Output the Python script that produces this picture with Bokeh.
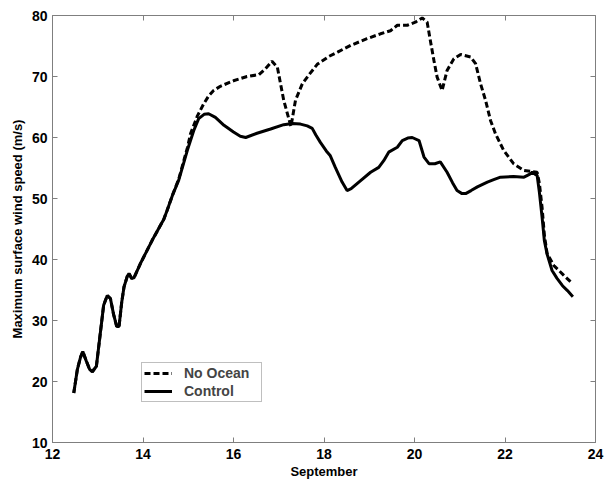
from bokeh.plotting import figure
from bokeh.models import LinearAxis, FixedTicker, Legend, LegendItem, Range1d, CustomJSTickFormatter
from bokeh.embed import file_html
from bokeh.resources import INLINE

# Data
control_x = [12.47, 12.55, 12.62, 12.67, 12.75, 12.82, 12.88, 12.97, 13.05, 13.13, 13.21, 13.28,
             13.35, 13.42, 13.47, 13.53, 13.58, 13.65, 13.69, 13.75, 13.80, 13.94, 14.20, 14.46,
             14.53, 14.65, 14.79, 14.98, 15.12, 15.23, 15.35, 15.45, 15.60, 15.79, 16.00, 16.15,
             16.27, 16.52, 16.82, 17.11, 17.30, 17.48, 17.63, 17.74, 17.82, 17.92, 18.05, 18.14,
             18.25, 18.40, 18.51, 18.60, 18.77, 19.03, 19.21, 19.32, 19.43, 19.62, 19.73, 19.85,
             19.95, 20.10, 20.21, 20.32, 20.45, 20.57, 20.72, 20.84, 20.94, 21.05, 21.13, 21.25,
             21.39, 21.61, 21.75, 21.90, 22.19, 22.42, 22.55, 22.60, 22.66, 22.71, 22.76, 22.82,
             22.87, 22.93, 23.04, 23.15, 23.27, 23.38, 23.50]
control_y = [18.1, 22.0, 24.0, 24.9, 23.3, 22.0, 21.6, 22.5, 27.5, 32.5, 34.1, 33.6,
             31.0, 29.0, 29.0, 33.0, 35.5, 37.2, 37.7, 36.9, 37.0, 39.3, 43.1, 46.6,
             48.0, 50.5, 53.0, 57.9, 61.1, 63.1, 63.8, 63.9, 63.3, 62.0, 60.9, 60.2,
             60.0, 60.7, 61.4, 62.1, 62.3, 62.2, 61.9, 61.5, 60.4, 59.2, 57.8, 57.0,
             55.1, 52.7, 51.3, 51.6, 52.7, 54.3, 55.1, 56.2, 57.6, 58.4, 59.5, 59.9,
             60.0, 59.5, 56.8, 55.7, 55.7, 56.0, 54.3, 52.6, 51.3, 50.8, 50.8, 51.3,
             51.9, 52.7, 53.1, 53.5, 53.6, 53.5, 54.0, 54.3, 54.0, 53.8, 51.0, 46.9,
             43.1, 40.9, 38.2, 36.9, 35.7, 34.9, 33.9]

noocean_x = [12.47, 12.55, 12.62, 12.67, 12.75, 12.82, 12.88, 12.97, 13.05, 13.13, 13.21, 13.28,
             13.35, 13.42, 13.47, 13.53, 13.58, 13.65, 13.69, 13.75, 13.80, 13.94, 14.20, 14.46,
             14.53, 14.65, 14.79, 14.98, 15.05, 15.20, 15.34, 15.45, 15.56, 15.71, 16.00, 16.30,
             16.56, 16.71, 16.85, 16.97, 17.04, 17.11, 17.27, 17.37, 17.52, 17.66, 17.85, 18.11,
             18.30, 18.59, 18.95, 19.25, 19.47, 19.62, 19.84, 20.02, 20.17, 20.28, 20.35, 20.43,
             20.50, 20.61, 20.72, 20.87, 21.02, 21.24, 21.35, 21.46, 21.57, 21.68, 21.79, 21.97,
             22.19, 22.42, 22.60, 22.71, 22.76, 22.82, 22.87, 22.93, 23.08, 23.30, 23.47]
noocean_y = [18.1, 22.0, 24.0, 24.9, 23.3, 22.0, 21.6, 22.5, 27.5, 32.5, 34.1, 33.6,
             31.0, 29.0, 29.0, 33.0, 35.5, 37.2, 37.7, 36.9, 37.0, 39.3, 43.1, 46.6,
             48.0, 50.5, 53.2, 58.3, 60.6, 63.5, 65.5, 66.8, 67.7, 68.4, 69.3, 70.0,
             70.3, 71.3, 72.5, 71.5, 68.8, 66.1, 61.8, 66.1, 68.8, 70.2, 72.0, 73.3,
             74.0, 75.1, 76.2, 77.0, 77.5, 78.4, 78.4, 78.9, 79.6, 78.9, 75.9, 72.6,
             69.9, 67.7, 71.0, 72.9, 73.6, 73.2, 72.1, 68.8, 66.1, 62.8, 60.6, 57.9,
             55.7, 54.6, 54.4, 54.3, 52.5, 48.5, 44.0, 41.0, 39.0, 37.4, 36.2]

x_ticks = [12, 14, 16, 18, 20, 22, 24]
y_ticks = [10, 20, 30, 40, 50, 60, 70, 80]
x_label = "September"
y_label = "Maximum surface wind speed (m/s)"
series_names = ["No Ocean", "Control"]

FONT = "Liberation Sans"
AX = "#7f7f7f"

p = figure(width=612, height=482, output_backend="svg", toolbar_location=None,
           x_range=Range1d(12, 24), y_range=Range1d(10, 80),
           min_border_left=52, min_border_top=15, min_border_right=17, min_border_bottom=40)
p.background_fill_color = "white"
p.border_fill_color = "white"
p.outline_line_color = AX
p.outline_line_width = 1
p.xgrid.visible = False
p.ygrid.visible = False

def style_axis(ax, ticks):
    ax.ticker = FixedTicker(ticks=ticks)
    ax.major_tick_in = 5
    ax.major_tick_out = 0
    ax.minor_tick_line_color = None
    ax.major_tick_line_color = AX
    ax.axis_line_color = AX
    ax.major_label_text_font = FONT
    ax.major_label_text_font_style = "bold"
    ax.major_label_text_color = "black"
    ax.major_label_text_font_size = "14px"
    ax.axis_label_text_font = FONT
    ax.axis_label_text_font_style = "bold"
    ax.axis_label_text_color = "black"
    ax.axis_label_text_font_size = "13px"

style_axis(p.xaxis[0], x_ticks)
style_axis(p.yaxis[0], y_ticks)
p.xaxis[0].axis_label = x_label
p.yaxis[0].axis_label = y_label
p.xaxis[0].major_label_standoff = 6
p.xaxis[0].axis_label_standoff = 2
p.yaxis[0].major_label_standoff = 5
p.yaxis[0].axis_label_standoff = 4

# tick-only axes on the top and right sides (no labels)
for side, ticks in (("above", x_ticks), ("right", y_ticks)):
    ax = LinearAxis()
    style_axis(ax, ticks)
    ax.formatter = CustomJSTickFormatter(code="return ''")
    ax.major_label_text_font_size = "0px"
    ax.major_label_standoff = 0
    ax.axis_line_color = None
    p.add_layout(ax, side)

r_no = p.line(noocean_x, noocean_y, line_color="black", line_width=3, line_dash="6 3")
r_ctl = p.line(control_x, control_y, line_color="black", line_width=3)

legend = Legend(items=[LegendItem(label=series_names[0], renderers=[r_no]),
                       LegendItem(label=series_names[1], renderers=[r_ctl])],
                location=(89, 40))
legend.label_text_font = FONT
legend.label_text_font_style = "bold"
legend.label_text_font_size = "14px"
legend.border_line_color = AX
legend.border_line_width = 1
legend.glyph_width = 28
legend.glyph_height = 16
legend.label_height = 16
legend.label_width = 75
legend.spacing = 2
legend.padding = 2
legend.margin = 0
legend.label_standoff = 12
legend.background_fill_alpha = 1
p.add_layout(legend, "center")

open("out.html", "w").write(file_html(p, INLINE))
